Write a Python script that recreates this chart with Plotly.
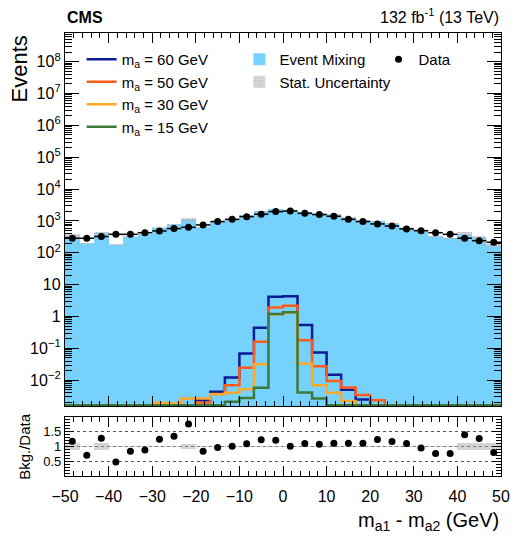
import numpy as np
import plotly.graph_objects as go

# ---------------- data ----------------
x_lo, x_hi, n_bins = -50.0, 50.0, 30
edges = np.linspace(x_lo, x_hi, n_bins + 1)
centers = 0.5 * (edges[:-1] + edges[1:])
bw = edges[1] - edges[0]

data_counts = [286, 286, 324, 380, 380, 427, 485, 575, 631, 748,
               955, 1122, 1365, 1622, 1963, 2061, 1738, 1585, 1403, 1122,
               955, 805, 692, 562, 495, 427, 380, 286, 240, 214]
bkg_mixing = [337, 200, 415, 180, 319, 378, 606, 776, 1110, 628,
              922, 1133, 1488, 1987, 2385, 2082, 1912, 1712, 1557, 1245,
              1060, 998, 810, 618, 470, 325, 289, 400, 305, 170]
stat_unc_rel = [0.12, 0.03, 0.12, 0.03, 0.03, 0.03, 0.03, 0.03, 0.09, 0.03,
                0.03, 0.03, 0.03, 0.03, 0.03, 0.03, 0.03, 0.03, 0.03, 0.03,
                0.03, 0.03, 0.03, 0.03, 0.03, 0.03, 0.03, 0.11, 0.11, 0.11]

sig_60 = [0, 0, 0, 0, 0, 0, 0, 0, 0, 0.00234,
          0.0043, 0.0121, 0.069, 0.445, 4.17, 4.3, 0.537, 0.0743, 0.0148, 0.0050,
          0.00246, 0, 0, 0, 0, 0, 0, 0, 0, 0]
sig_50 = [0, 0, 0, 0, 0, 0, 0.0016, 0, 0, 0.0020,
          0.0037, 0.00697, 0.0245, 0.16, 1.93, 2.17, 0.181, 0.0275, 0.0095, 0.0059,
          0.0034, 0.00234, 0, 0, 0, 0, 0, 0, 0, 0]
sig_30 = [0, 0, 0, 0, 0, 0, 0.00195, 0.00186, 0.00265, 0.00265,
          0.0036, 0.0040, 0.0052, 0.0318, 1.15, 1.3, 0.0335, 0.00697, 0.0040, 0.00224,
          0, 0, 0, 0, 0, 0, 0, 0, 0, 0]
sig_15 = [0, 0, 0, 0, 0, 0, 0, 0, 0, 0,
          0.00164, 0.00209, 0.00278, 0.00575, 1.19, 1.37, 0.0041, 0.00265, 0, 0,
          0, 0, 0, 0, 0, 0, 0, 0, 0, 0]

signal_labels = ["m<sub>a</sub> = 60 GeV", "m<sub>a</sub> = 50 GeV",
                 "m<sub>a</sub> = 30 GeV", "m<sub>a</sub> = 15 GeV"]
signal_colors = ["#0b1c96", "#ff5a1c", "#ffa726", "#3b7a3b"]

major_exps = [-2, -1, 0, 1, 2, 3, 4, 5, 6, 7, 8]
ytick_text = ["10<sup>\u22122</sup>", "10<sup>\u22121</sup>", "1", "10",
              "10<sup>2</sup>", "10<sup>3</sup>", "10<sup>4</sup>", "10<sup>5</sup>",
              "10<sup>6</sup>", "10<sup>7</sup>", "10<sup>8</sup>"]

# ---------------- figure ----------------
data_arr = np.array(data_counts, float)
bkg_arr = np.array(bkg_mixing, float)
unc_arr = np.array(stat_unc_rel, float)
ratio = bkg_arr / data_arr

y_log_lo, y_log_hi = -2.81, 8.9
floor = 10 ** (y_log_lo + 0.02)
minor_vals = [float(k * 10.0 ** d) for d in range(-3, 9) for k in range(2, 10)]
major_vals = [float(10.0 ** e) for e in major_exps]

FONT = "Liberation Sans"
TW = 1.3
fig = go.Figure()

fig.add_trace(go.Bar(x=centers, y=bkg_arr, width=bw, name="Event Mixing",
                     marker=dict(color="#76d2fd", line=dict(width=0)),
                     legend="legend2", xaxis="x", yaxis="y"))
fig.add_trace(go.Bar(x=centers, y=2 * bkg_arr * unc_arr, base=bkg_arr * (1 - unc_arr),
                     width=bw, name="Stat. Uncertainty",
                     marker=dict(color="rgba(0,0,0,0)", line=dict(width=0),
                                 pattern=dict(shape=".", fgcolor="#9a9a9a",
                                              bgcolor="rgba(200,200,200,0.6)", size=3,
                                              solidity=0.4)),
                     legend="legend2", xaxis="x", yaxis="y"))

for vals, lab, col in zip([sig_60, sig_50, sig_30, sig_15], signal_labels, signal_colors):
    v = np.maximum(np.array(vals, float), floor)
    ys = np.append(v, v[-1])
    fig.add_trace(go.Scatter(x=edges, y=ys, mode="lines", line_shape="hv",
                             line=dict(color=col, width=2.5), name=lab,
                             legend="legend", xaxis="x", yaxis="y"))

fig.add_trace(go.Scatter(x=centers, y=data_arr, mode="markers", name="Data",
                         marker=dict(color="black", size=7),
                         error_x=dict(type="constant", value=bw / 2, width=0,
                                      thickness=1.5, color="black"),
                         error_y=dict(type="data", array=np.sqrt(data_arr), width=0,
                                      thickness=1.5, color="black"),
                         legend="legend3", xaxis="x", yaxis="y"))

# invisible carriers for the long decade ticks (overlay axes, left and right)
for ax in ("y3", "y4"):
    fig.add_trace(go.Scatter(x=[0], y=[1], mode="markers", marker=dict(opacity=0),
                             showlegend=False, hoverinfo="skip", xaxis="x", yaxis=ax))

# ratio panel
fig.add_trace(go.Bar(x=centers, y=2 * unc_arr, base=1 - unc_arr, width=bw,
                     marker=dict(color="rgba(170,170,170,0.5)", line=dict(width=0)),
                     showlegend=False, xaxis="x2", yaxis="y2"))
fig.add_trace(go.Scatter(x=centers, y=ratio, mode="markers",
                         marker=dict(color="black", size=7),
                         showlegend=False, xaxis="x2", yaxis="y2"))

H, W = 536, 520
ml, mr, mt, mb = 65, 10, 33, 60
ph = H - mt - mb
pw = W - ml - mr


def py(p):  # pixel y -> paper
    return (H - mb - p) / ph


def px(p):
    return (p - ml) / pw


axis_common = dict(showline=True, linecolor="black", linewidth=TW, mirror="ticks",
                   ticks="inside", tickcolor="black", tickwidth=TW, zeroline=False,
                   showgrid=False, tickfont=dict(family=FONT, size=16, color="black"))

decade_axis = dict(type="log", overlaying="y", anchor="x", range=[y_log_lo, y_log_hi],
                   tickmode="array", tickvals=major_vals, ticks="inside", ticklen=14,
                   tickcolor="black", tickwidth=TW, showticklabels=False,
                   showline=False, showgrid=False, zeroline=False)

fig.update_layout(
    width=W, height=H, margin=dict(l=ml, r=mr, t=mt, b=mb),
    paper_bgcolor="white", plot_bgcolor="white",
    barmode="overlay", bargap=0,
    font=dict(family=FONT, color="black"),
    xaxis=dict(**axis_common, range=[x_lo, x_hi], domain=[0, 1], anchor="y",
               dtick=10, ticklen=10, showticklabels=False,
               minor=dict(ticks="inside", dtick=2, ticklen=5, tickcolor="black",
                          tickwidth=TW)),
    yaxis=dict(**axis_common, type="log", range=[y_log_lo, y_log_hi],
               domain=[py(406), 1], anchor="x",
               tickmode="array", tickvals=major_vals + minor_vals,
               ticktext=ytick_text + [""] * len(minor_vals), ticklen=7),
    yaxis3=dict(**decade_axis, side="left"),
    yaxis4=dict(**decade_axis, side="right"),
    xaxis2=dict(**axis_common, range=[x_lo, x_hi], domain=[0, 1], anchor="y2",
                dtick=10, ticklen=10, ticklabelstandoff=6,
                minor=dict(ticks="inside", dtick=2, ticklen=5, tickcolor="black",
                           tickwidth=TW)),
    yaxis2=dict(**{k: v for k, v in axis_common.items() if k not in ("showgrid", "tickfont")},
                range=[0, 2.0], domain=[0, py(417)], anchor="x2",
                tickmode="array", tickvals=[0.5, 1, 1.5], ticktext=["0.5", "1", "1.5"],
                ticklen=9, tickfont=dict(family=FONT, size=13, color="black"),
                showgrid=True, gridcolor="#555555", griddash="dot", gridwidth=1,
                minor=dict(ticks="inside", dtick=0.1, ticklen=5, tickcolor="black",
                           tickwidth=TW)),
    legend=dict(x=px(82), y=py(43), xanchor="left", yanchor="top",
                bgcolor="rgba(0,0,0,0)", font=dict(family=FONT, size=15),
                tracegroupgap=0, itemwidth=30),
    legend2=dict(x=px(243), y=py(43), xanchor="left", yanchor="top",
                 bgcolor="rgba(0,0,0,0)", font=dict(family=FONT, size=15),
                 tracegroupgap=0, itemwidth=30),
    legend3=dict(x=px(385), y=py(43), xanchor="left", yanchor="top",
                 bgcolor="rgba(0,0,0,0)", font=dict(family=FONT, size=15),
                 tracegroupgap=0, itemwidth=30),
    annotations=[
        dict(text="<b>CMS</b>", x=0, y=py(28), xref="paper", yref="paper",
             xanchor="left", yanchor="bottom", showarrow=False,
             font=dict(family=FONT, size=16)),
        dict(text="132 fb<sup>-1</sup> (13 TeV)", x=1, y=py(28), xref="paper", yref="paper",
             xanchor="right", yanchor="bottom", showarrow=False,
             font=dict(family=FONT, size=16)),
        dict(text="Events", x=px(19), y=1.0, xref="paper", yref="paper",
             xanchor="center", yanchor="top", textangle=-90, showarrow=False,
             font=dict(family=FONT, size=22)),
        dict(text="Bkg./Data", x=px(23), y=py(446), xref="paper", yref="paper",
             xanchor="center", yanchor="middle", textangle=-90, showarrow=False,
             font=dict(family=FONT, size=15)),
        dict(text="m<sub>a1</sub> - m<sub>a2</sub> (GeV)", x=1, y=py(521), xref="paper",
             yref="paper", xanchor="right", yanchor="middle", showarrow=False,
             font=dict(family=FONT, size=20)),
    ],
)

fig.write_html("out.html")
